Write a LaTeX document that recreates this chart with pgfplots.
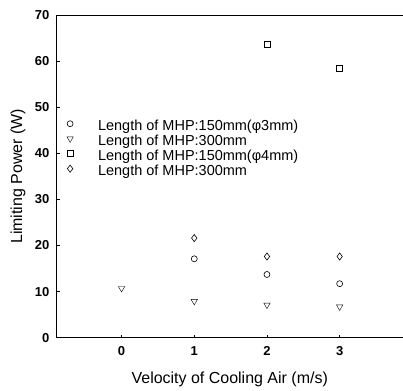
\documentclass[border=0pt]{standalone}
\usepackage{pgfplots}
\pgfplotsset{compat=1.18}
\usepackage{fontspec}
\setmainfont{Liberation Sans}
\begin{document}
\begin{tikzpicture}
\begin{axis}[
  scale only axis, clip=false,
  width=346pt, height=323pt,
  xmin=-0.889, xmax=3.865,
  ymin=0, ymax=70,
  axis x line*=bottom, axis y line*=left,
  xtick={0,1,2,3}, ytick={0,10,...,70},
  tick align=inside, major tick length=3pt,
  tick style={black, line width=0.6pt},
  axis line style={line width=0.9pt},
  /pgf/number format/assume math mode=true,
  ticklabel style={font=\bfseries\fontsize{13}{14}\selectfont},
  xticklabel style={yshift=-5pt},
  yticklabel style={xshift=-4pt},
  xlabel={Velocity of Cooling Air (m/s)},
  ylabel={Limiting Power (W)},
  label style={font=\fontsize{16}{18}\selectfont},
  xlabel style={at={(axis description cs:0.5,-0.1424)}, anchor=base},
  ylabel style={at={(axis description cs:-0.101,0.5)}, anchor=base},
  legend style={draw=none, fill=none, inner sep=0pt, at={(axis description cs:0,0.676)}, anchor=north west,
    font=\fontsize{14.5}{16}\selectfont, row sep=0pt,
    nodes={inner xsep=0pt, inner ysep=1pt, text height=10pt, text depth=3pt}},
  legend image code/.code={\path[draw=none] (0pt,0pt) -- (41pt,0pt); \draw[#1, only marks] plot coordinates {(13pt,3.5pt)};},
  legend cell align=left,
  every axis plot/.append style={only marks, black, mark options={line width=0.6pt, fill=white}},
  after end axis/.code={
    \draw[black, line width=0.9pt] (rel axis cs:0,1) -- (rel axis cs:1,1);
    \path (rel axis cs:0,1) ++(-57pt,15pt);
    \path (rel axis cs:1,0) ++(0pt,-53pt);
  },
]
\addplot[mark=o, mark size=3pt] coordinates {(1,17.1) (2,13.7) (3,11.7)};
\addlegendentry{Length of MHP:150mm(φ3mm)}
\addplot[mark=triangle, mark size=3.7pt, mark options={rotate=180}] coordinates {(0,10.7) (1,7.9) (2,7.1) (3,6.7)};
\addlegendentry{Length of MHP:300mm}
\addplot[mark=square, mark size=3pt] coordinates {(2,63.6) (3,58.4)};
\addlegendentry{Length of MHP:150mm(φ4mm)}
\addplot[mark=diamond, mark size=3.6pt] coordinates {(1,21.6) (2,17.6) (3,17.6)};
\addlegendentry{Length of MHP:300mm}
\end{axis}
\end{tikzpicture}
\end{document}
